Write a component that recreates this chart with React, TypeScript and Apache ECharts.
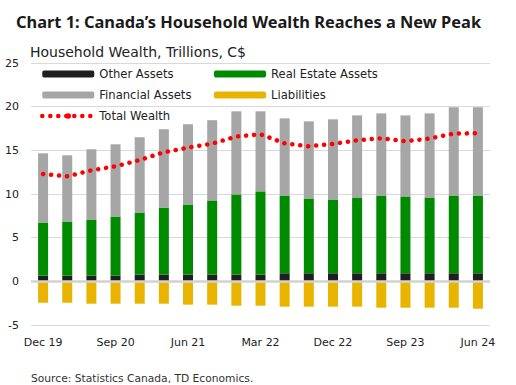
import React, { useEffect, useRef } from "react";
import * as echarts from "echarts";

const categories = [
  "Dec 19", "Mar 20", "Jun 20", "Sep 20", "Dec 20", "Mar 21", "Jun 21", "Sep 21", "Dec 21", "Mar 22",
  "Jun 22", "Sep 22", "Dec 22", "Mar 23", "Jun 23", "Sep 23", "Dec 23", "Mar 24", "Jun 24",
];
const otherAssets = [0.65, 0.65, 0.65, 0.65, 0.77, 0.77, 0.77, 0.77, 0.77, 0.77, 0.92, 0.92, 0.92, 0.92, 0.92, 0.92, 0.92, 0.92, 0.92];
const realEstateAssets = [6.08, 6.2, 6.43, 6.77, 7.11, 7.68, 8.03, 8.49, 9.18, 9.53, 8.91, 8.57, 8.45, 8.68, 8.91, 8.8, 8.68, 8.91, 8.91];
const financialAssets = [7.93, 7.58, 8.04, 8.27, 8.62, 8.97, 9.19, 9.19, 9.52, 9.17, 8.83, 8.83, 9.18, 9.4, 9.4, 9.28, 9.63, 10.09, 10.09];
const liabilities = [-2.45, -2.45, -2.56, -2.56, -2.56, -2.56, -2.67, -2.67, -2.79, -2.79, -2.9, -2.9, -2.9, -2.9, -3.02, -3.02, -3.02, -3.02, -3.13];
const totalWealth = [12.29, 12.02, 12.71, 13.17, 13.89, 14.78, 15.31, 15.77, 16.58, 16.84, 15.8, 15.46, 15.73, 16.15, 16.38, 16.04, 16.35, 16.92, 16.96];

const TITLE_FONT = "Noto Sans";
const FONT = "DejaVu Sans";

export default function App() {
  const ref = useRef<HTMLDivElement>(null);
  useEffect(() => {
    const chart = echarts.init(ref.current!, null, { renderer: "svg" });
    const legendText = { fontFamily: FONT, fontSize: 11.6, color: "#222", lineHeight: 14 };
    chart.setOption({
      animation: false,
      textStyle: { fontFamily: FONT },
      title: [
        {
          text: "Chart 1: Canada\u2019s Household Wealth Reaches a New Peak",
          left: 16,
          top: 13,
          padding: 0,
          textStyle: { fontFamily: TITLE_FONT, fontSize: 16.4, fontWeight: "bold", color: "#1a1a1a" },
        },
        {
          text: "Household Wealth, Trillions, C$",
          left: 30,
          top: 45,
          padding: 0,
          textStyle: { fontFamily: FONT, fontSize: 14, fontWeight: "normal", color: "#222" },
        },
        {
          text: "Source: Statistics Canada, TD Economics.",
          left: 31,
          top: 372.5,
          padding: 0,
          textStyle: { fontFamily: FONT, fontSize: 10.7, fontWeight: "normal", color: "#333" },
        },
      ],
      legend: [
        {
          left: 40,
          top: 67,
          padding: 0,
          orient: "vertical",
          itemWidth: 52,
          itemHeight: 7,
          itemGap: 7,
          textStyle: legendText,
          lineStyle: { width: 4.5 },
          data: ["Other Assets", "Financial Assets", "Total Wealth"],
        },
        {
          left: 214,
          top: 67,
          padding: 0,
          orient: "vertical",
          itemWidth: 52,
          itemHeight: 7,
          itemGap: 7,
          textStyle: legendText,
          data: ["Real Estate Assets", "Liabilities"],
        },
      ],
      grid: { left: 31, right: 26, top: 63, bottom: 60 },
      xAxis: {
        type: "category",
        data: categories,
        axisLine: { show: false, onZero: false },
        axisTick: { show: false },
        axisLabel: { interval: 2, fontSize: 11, color: "#222", margin: 12, fontFamily: FONT },
      },
      yAxis: {
        type: "value",
        min: -5,
        max: 25,
        interval: 5,
        axisLine: { show: false },
        axisTick: { show: false },
        axisLabel: { fontSize: 11, color: "#222", margin: 12, fontFamily: FONT },
        splitLine: { lineStyle: { color: "#d9d9d9", width: 1 } },
      },
      series: [
        {
          name: "Other Assets",
          type: "bar",
          stack: "w",
          barWidth: 10,
          itemStyle: { color: "#1f1f1f" },
          data: otherAssets,
          markLine: {
            silent: true,
            symbol: "none",
            label: { show: false },
            lineStyle: { color: "#d2d2d2", width: 2.5, type: "solid" },
            data: [{ yAxis: 0 }],
          },
        },
        {
          name: "Real Estate Assets",
          type: "bar",
          stack: "w",
          barWidth: 10,
          itemStyle: { color: "#008a00" },
          data: realEstateAssets,
        },
        {
          name: "Financial Assets",
          type: "bar",
          stack: "w",
          barWidth: 10,
          itemStyle: { color: "#a6a6a6" },
          data: financialAssets,
        },
        {
          name: "Liabilities",
          type: "bar",
          stack: "w",
          barWidth: 10,
          itemStyle: { color: "#e8b400" },
          data: liabilities,
        },
        {
          name: "Total Wealth",
          type: "line",
          symbol: "none",
          z: 5,
          itemStyle: { color: "#ff0000" },
          lineStyle: { color: "#ff0000", width: 4.5, type: [0.1, 7.9], cap: "round" },
          data: totalWealth,
        },
      ],
    });
    return () => chart.dispose();
  }, []);
  return <div ref={ref} style={{ position: "absolute", left: 0, top: 0, width: 516, height: 385 }} />;
}
